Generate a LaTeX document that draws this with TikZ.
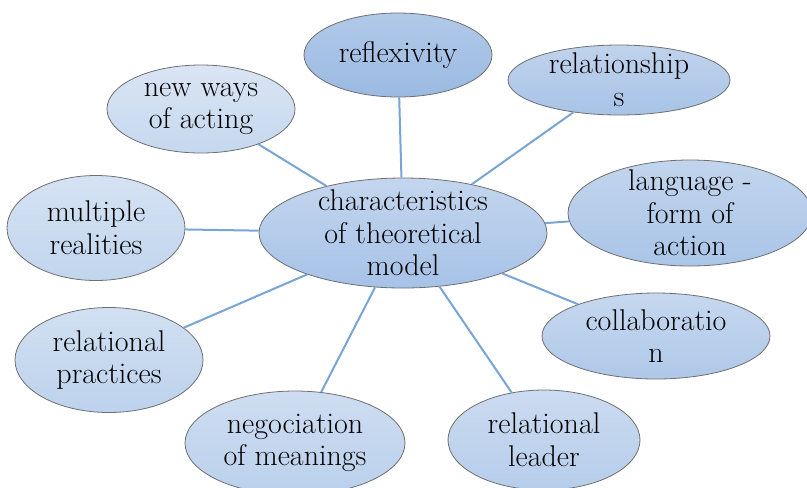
\documentclass[tikz,border=0pt]{standalone}
\usetikzlibrary{shapes.geometric}
\definecolor{linkc}{HTML}{78A5D6}
\definecolor{edgec}{HTML}{6F6F6F}
\definecolor{cT}{HTML}{C4D6EE}\definecolor{cB}{HTML}{A6C2E7}
\definecolor{rfT}{HTML}{B1C9E8}\definecolor{rfB}{HTML}{9BBAE2}
\definecolor{rsT}{HTML}{C0D3EC}\definecolor{rsB}{HTML}{A8C3E7}
\definecolor{lgT}{HTML}{C2D5ED}\definecolor{lgB}{HTML}{AAC5E8}
\definecolor{coT}{HTML}{C6D8EF}\definecolor{coB}{HTML}{AFC8E9}
\definecolor{rlT}{HTML}{CBDBF0}\definecolor{rlB}{HTML}{B6CDEB}
\definecolor{ngT}{HTML}{CEDDF1}\definecolor{ngB}{HTML}{BAD0EC}
\definecolor{rpT}{HTML}{D1E0F2}\definecolor{rpB}{HTML}{BDD2ED}
\definecolor{mrT}{HTML}{D5E2F3}\definecolor{mrB}{HTML}{C1D5EE}
\definecolor{nwT}{HTML}{DAE5F4}\definecolor{nwB}{HTML}{C5D8EF}
\tikzset{
  bub/.style n args={4}{ellipse, draw=edgec, line width=0.6pt, inner sep=0pt,
     minimum width=#1, minimum height=#2, top color=#3, bottom color=#4},
  lbl/.style={align=center, inner sep=0pt, text=black,
     font=\fontsize{22.5}{24.5}\selectfont},
  link/.style={draw=linkc, line width=1.5pt}
}
\begin{document}
\begin{tikzpicture}[x=0.75pt,y=-0.75pt]
\useasboundingbox (0,0) rectangle (807,487);
% ellipses
\node[bub={216pt}{82.5pt}{cT}{cB}] (c) at (403,233) {};
\node[bub={141pt}{63pt}{rfT}{rfB}] (rf) at (398,55) {};
\node[bub={166.5pt}{52.5pt}{rsT}{rsB}] (rs) at (619,80) {};
\node[bub={183pt}{79.5pt}{lgT}{lgB}] (lg) at (690,213) {};
\node[bub={171pt}{64.5pt}{coT}{coB}] (co) at (656,336) {};
\node[bub={144pt}{75pt}{rlT}{rlB}] (rl) at (544,440) {};
\node[bub={165pt}{78pt}{ngT}{ngB}] (ng) at (295,443) {};
\node[bub={141pt}{78.75pt}{rpT}{rpB}] (rp) at (109,360) {};
\node[bub={133.5pt}{78.75pt}{mrT}{mrB}] (mr) at (96,228) {};
\node[bub={141pt}{66pt}{nwT}{nwB}] (nw) at (201,109) {};
% labels
\node[lbl] (tc) at (c) {characteristics\\of theoretical\\model};
\node[lbl] (trf) at (rf) {reflexivity};
\node[lbl] (trs) at (rs) {relationship\\s};
\node[lbl] (tlg) at (lg) {language -\\form of\\action};
\node[lbl] (tco) at (co) {collaboratio\\n};
\node[lbl] (trl) at (rl) {relational\\leader};
\node[lbl] (tng) at (ng) {negociation\\of meanings};
\node[lbl] (trp) at (rp) {relational\\practices};
\node[lbl] (tmr) at (mr) {multiple\\realities};
\node[lbl] (tnw) at (nw) {new ways\\of acting};
% connectors
\foreach \n in {rf,rs,lg,co,rl,ng,rp,mr,nw}
  \draw[link] (c) -- (\n);
\end{tikzpicture}
\end{document}
